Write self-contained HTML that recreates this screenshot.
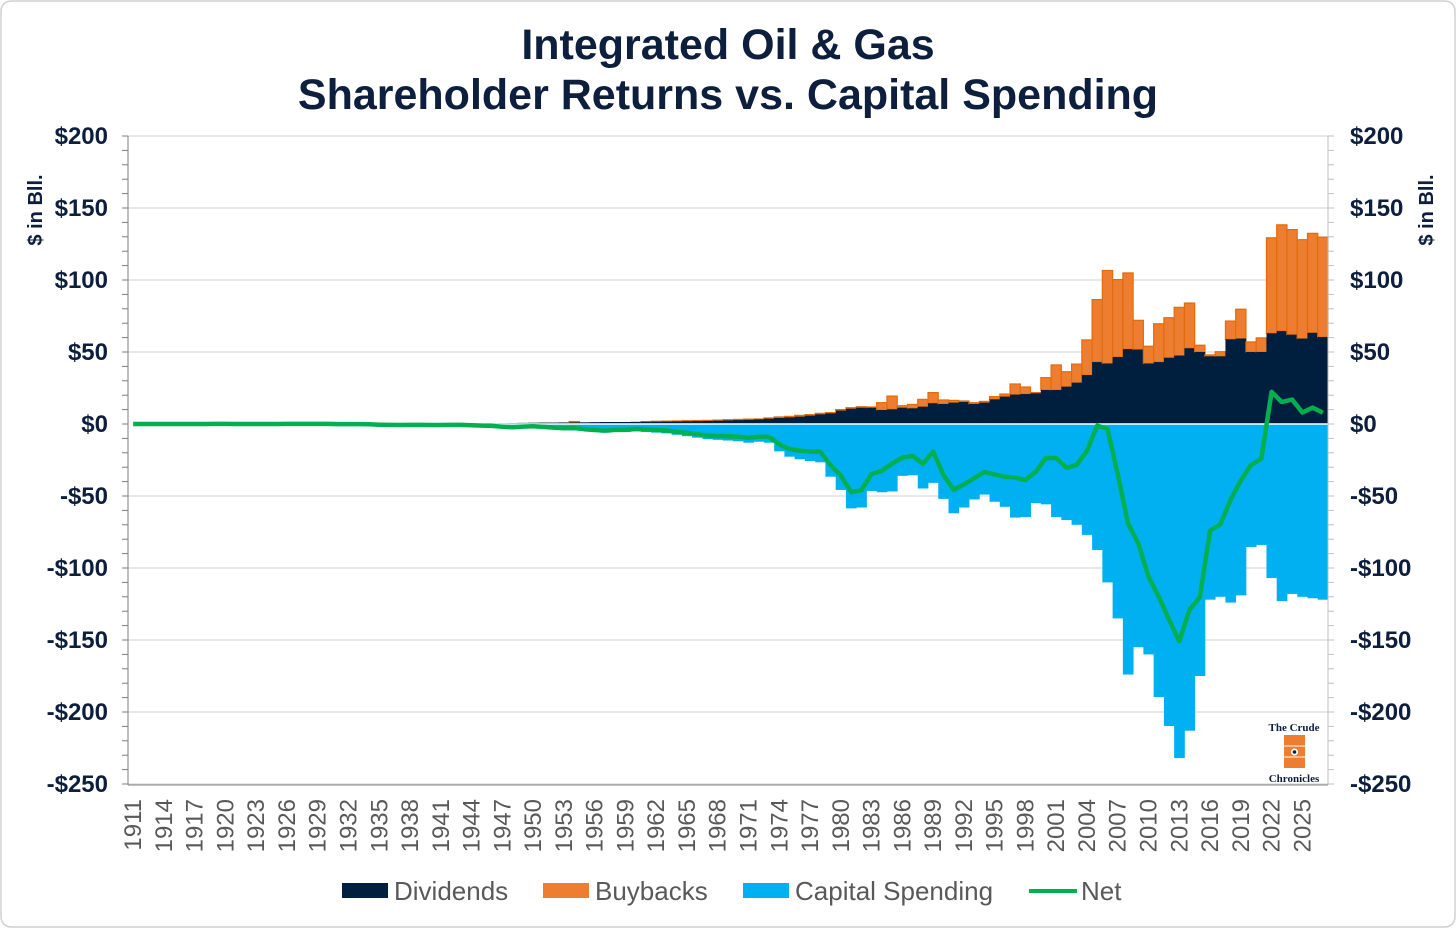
<!DOCTYPE html>
<html><head><meta charset="utf-8"><style>
html,body{margin:0;padding:0;background:#fff;}
svg{display:block;font-family:"Liberation Sans",Arial,sans-serif;}
</style></head><body>
<svg id="chart" width="1456" height="928" viewBox="0 0 1456 928">
<rect x="1" y="1" width="1454" height="926" rx="10" fill="#fff" stroke="#d0d0d0" stroke-width="1.5"/>
<text x="728" y="59" text-anchor="middle" font-size="43" font-weight="bold" fill="#0e1f3d">Integrated Oil &amp; Gas</text>
<text x="728" y="109" text-anchor="middle" font-size="43" font-weight="bold" fill="#0e1f3d">Shareholder Returns vs. Capital Spending</text>
<g id="grid"></g><g id="bars"></g><g id="axes"></g><g id="line"></g>
<text transform="translate(42,210) rotate(-90)" text-anchor="middle" font-size="20" font-weight="bold" fill="#0e1f3d">$ in Bll.</text>
<text transform="translate(1433,210) rotate(-90)" text-anchor="middle" font-size="20" font-weight="bold" fill="#0e1f3d">$ in Bll.</text>
<g font-size="26" fill="#595959">
<g><rect x="342" y="883" width="46" height="15" fill="#001f3f"/><text x="394" y="900">Dividends</text></g>
<g><rect x="543" y="883" width="46" height="15" fill="#ed7d31"/><text x="595" y="900">Buybacks</text></g>
<g><rect x="743" y="883" width="46" height="15" fill="#00b0f0"/><text x="795" y="900">Capital Spending</text></g>
<g><line x1="1029" y1="891" x2="1077" y2="891" stroke="#00b050" stroke-width="4"/><text x="1081" y="900">Net</text></g>
</g>
<g>
<text x="1294" y="731" text-anchor="middle" font-size="11" font-weight="bold" font-family="Liberation Serif,serif" fill="#0e1f3d">The Crude</text>
<rect x="1284" y="735" width="21" height="33" fill="#ed7d31"/>
<line x1="1284" y1="746" x2="1305" y2="746" stroke="#fff" stroke-width="1"/>
<line x1="1284" y1="757" x2="1305" y2="757" stroke="#fff" stroke-width="1"/>
<circle cx="1294.5" cy="752" r="3.5" fill="#fff"/><circle cx="1294.5" cy="752" r="1.8" fill="#0e1f3d"/>
<text x="1294" y="782" text-anchor="middle" font-size="11" font-weight="bold" font-family="Liberation Serif,serif" fill="#0e1f3d">Chronicles</text>
</g>
</svg>
<script>
const years = [];
for (let y = 1911; y <= 2027; y++) years.push(y);
const dividends = [0.1,0.1,0.1,0.1,0.1,0.1,0.1,0.1,0.2,0.2,
0.2,0.2,0.2,0.2,0.2,0.3,0.3,0.3,0.3,0.3,
0.2,0.2,0.2,0.2,0.3,0.3,0.3,0.3,0.3,0.3,
0.3,0.4,0.4,0.4,0.4,0.5,0.6,0.7,0.8,0.9,
1.0,1.0,1.1,1.1,1.2,1.3,1.4,1.4,1.4,1.5,
1.5,1.6,1.7,1.8,1.9,2.0,2.1,2.3,2.5,2.7,2.9,
3.2,3.7,4.2,4.6,5.1,5.8,6.7,7.4,9.3,10.6,11.3,11.3,9.7,10.2,11.3,10.9,12,14.4,13.9,14.8,15.3,13.9,14.8,17.1,19,20.4,20.8,21.3,23.6,23.6,25.9,28.7,34,
43,42,46.5,52,51.7,42,43,46,47.5,52.6,50,47,47,58.8,59.3,50,50,63,64.5,62,59.3,63.3,60.4];
const buybacks = [0,0,0,0,0,0,0,0,0,0,
0,0,0,0,0,0,0,0,0,0,
0,0,0,0,0,0,0,0,0,0,
0,0,0,0,0,0,0,0,0,0,
0,0,0,0.6,0,0,0,0,0,0,
0.2,0.3,0.3,0.3,0.4,0.4,0.4,0.4,0.5,0.5,0.5,
0.3,0.5,0.7,0.7,0.9,0.7,0.7,0.5,0.7,0.7,0.7,0.5,5.1,9.2,1.4,2.7,5.1,7.4,2.8,1.6,0.7,0.9,0.9,1.9,1.8,7.4,4.9,0.5,8.6,17.4,10.4,12.9,24.4,
43.4,64.6,53.8,52.9,20.3,12,26.6,27.8,33.5,31.4,4.7,1,3.2,12.7,20.4,7,9.8,66.3,73.8,73,68.7,69.1,69.4];
const capex = [-0.1,-0.1,-0.1,-0.1,-0.1,-0.1,-0.1,-0.1,-0.1,-0.1,
-0.2,-0.2,-0.2,-0.2,-0.2,-0.2,-0.2,-0.2,-0.2,-0.2,
-0.3,-0.3,-0.3,-0.4,-0.8,-0.9,-1.0,-0.9,-0.9,-1.0,
-1.0,-1.0,-1.0,-1.2,-1.5,-1.8,-2.5,-3.0,-2.6,-2.5,
-3.0,-3.5,-4.0,-4.5,-4.8,-5.5,-6.0,-5.5,-5.5,-5.0,
-5.5,-6.0,-6.5,-7.5,-8.5,-9.5,-10.5,-11,-11.5,-12,-13,
-12.3,-13,-19,-22.7,-24.5,-25.7,-26.6,-36.6,-45.8,-58.6,-58,-46.5,-47.4,-46.8,-36,-35.6,-44.8,-40.9,-52,-62,-58,-52.4,-49,-54,-57.5,-65,-64.6,-55,-55.8,-64.6,-66.7,-70,-77,
-87.5,-110,-135,-174,-155,-160,-189.6,-209.7,-232,-213,-175,-122,-120,-124,-119,-85.4,-84,-107,-123,-118,-120,-121,-122];
const yTicks = [200,150,100,50,0,-50,-100,-150,-200,-250];
const yTickLabels = ["$200","$150","$100","$50","$0","-$50","-$100","-$150","-$200","-$250"];

const NS = "http://www.w3.org/2000/svg";
const PL = 128, PR = 1328, Y0 = 424, PPU = 1.44;
const bw = (PR - PL) / years.length;
const xs = i => PL + i * bw;
const ys = v => Y0 - v * PPU;
function mk(tag, attrs, parent) {
  const e = document.createElementNS(NS, tag);
  for (const k in attrs) e.setAttribute(k, attrs[k]);
  parent.appendChild(e); return e;
}
const grid = document.getElementById('grid'), bars = document.getElementById('bars'),
      axes = document.getElementById('axes'), lineG = document.getElementById('line');
const svg = document.getElementById('chart');

yTicks.forEach((t, k) => {
  if (t !== 0) {
    const g = mk('line', {x1: PL, x2: PR, y1: ys(t), y2: ys(t), stroke: '#d9d9d9', 'stroke-width': 1.3}, grid);
    
    
  }
  const l = mk('text', {x: 108, y: ys(t) + 8, 'text-anchor': 'end', 'font-size': 24, 'font-weight': 'bold', fill: '#0e1f3d'}, svg);
  l.textContent = yTickLabels[k];
  
  
  const r = mk('text', {x: 1350, y: ys(t) + 8, 'text-anchor': 'start', 'font-size': 24, 'font-weight': 'bold', fill: '#0e1f3d'}, svg);
  r.textContent = yTickLabels[k];
  
  
});

years.forEach((yr, i) => {
  const x = xs(i);
  const d = dividends[i], b = buybacks[i], c = capex[i];
  if (c < 0) {
    const r = mk('rect', {x: x, y: Y0, width: bw + 0.4, height: -c * PPU, fill: '#00b0f0'}, bars);
    
    
  }
  if (b > 0) {
    const r = mk('rect', {x: x, y: ys(d + b), width: bw, height: b * PPU, fill: '#ed7d31', stroke: '#e36c09', 'stroke-width': 1.2}, bars);
    
    
  }
  if (d > 0) {
    const r = mk('rect', {x: x, y: ys(d), width: bw + 0.4, height: d * PPU, fill: '#001f3f'}, bars);
    
    
  }
  if ((yr - 1911) % 3 === 0) {
    const t = mk('text', {transform: 'translate(' + (x + bw / 2 + 8) + ',799) rotate(-90)', 'text-anchor': 'end', 'font-size': 24, fill: '#595959'}, svg);
    t.textContent = yr;
    
    
  }
});

const zl = mk('line', {x1: PL, x2: PR, y1: Y0, y2: Y0, stroke: '#ffffff', 'stroke-width': 1.5}, axes);


const la = mk('line', {x1: PL, x2: PL, y1: 136, y2: 785, stroke: '#7f7f7f', 'stroke-width': 1}, axes);


const ra = mk('line', {x1: PR, x2: PR, y1: 136, y2: 785, stroke: '#bfbfbf', 'stroke-width': 1}, axes);


const xa = mk('line', {x1: PL, x2: PR, y1: 785, y2: 785, stroke: '#7f7f7f', 'stroke-width': 1}, axes);


for (let v = 200; v >= -250; v -= 10) {
  mk('line', {x1: PL - 6, x2: PL, y1: ys(v), y2: ys(v), stroke: '#7f7f7f', 'stroke-width': 1}, axes);
  mk('line', {x1: PR, x2: PR + 6, y1: ys(v), y2: ys(v), stroke: '#bfbfbf', 'stroke-width': 1}, axes);
}

const pts = years.map((yr, i) => (xs(i) + bw / 2).toFixed(1) + ',' + ys(dividends[i] + buybacks[i] + capex[i]).toFixed(1));
const nl = mk('polyline', {points: pts.join(' '), fill: 'none', stroke: '#00b050', 'stroke-width': 4.5, 'stroke-linejoin': 'round'}, lineG);


</script>
</body></html>
